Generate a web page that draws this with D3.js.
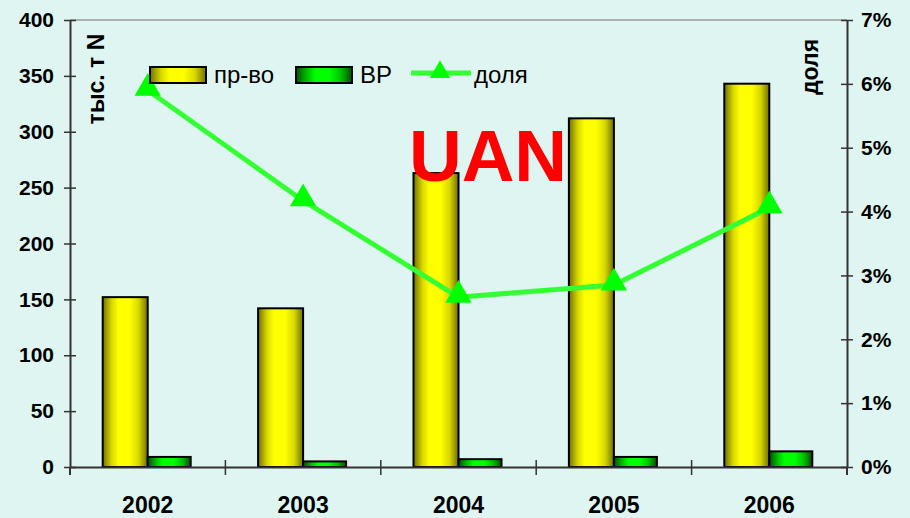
<!DOCTYPE html>
<html lang="ru">
<head>
<meta charset="utf-8">
<script src="https://d3js.org/d3.v7.min.js"></script>
<style>
  body { margin: 0; background: #def5f1; }
  text { font-family: Arial, "Liberation Sans", sans-serif; }
</style>
</head>
<body>
<svg width="910" height="518"></svg>
<script>
// data
var years = ["2002", "2003", "2004", "2005", "2006"];
var production = [152, 142, 263, 312, 343];   // пр-во, тыс. т N
var vr = [9, 5, 7, 9, 14];                     // ВР
var share = [5.9, 4.17, 2.66, 2.85, 4.06];     // доля, %
var leftTicks = [0, 50, 100, 150, 200, 250, 300, 350, 400];
var rightTicks = [0, 1, 2, 3, 4, 5, 6, 7];

var svg = d3.select("svg");
var plotL = 70, plotR = 847, plotT = 20, plotB = 467;

svg.append("rect").attr("width", 910).attr("height", 518).attr("fill", "#def5f1");

var x = d3.scaleBand().domain(years).range([plotL, plotR]);
var y = d3.scaleLinear().domain([0, 400]).range([plotB, plotT]);
var y2 = d3.scaleLinear().domain([0, 7]).range([plotB, plotT]);

// gradients (bright band a bit left of centre, dark edges)
var defs = svg.append("defs");
function grad(id, dark, mid, light) {
  var g = defs.append("linearGradient").attr("id", id)
    .attr("x1", "0%").attr("x2", "100%").attr("y1", "0%").attr("y2", "0%");
  g.append("stop").attr("offset", "0%").attr("stop-color", dark);
  g.append("stop").attr("offset", "20%").attr("stop-color", mid);
  g.append("stop").attr("offset", "35%").attr("stop-color", light);
  g.append("stop").attr("offset", "60%").attr("stop-color", light);
  g.append("stop").attr("offset", "80%").attr("stop-color", mid);
  g.append("stop").attr("offset", "100%").attr("stop-color", dark);
}
grad("gy", "#707000", "#d8d800", "#ffff00");
grad("gg", "#005000", "#00c000", "#00ff00");

// top border line
svg.append("line").attr("x1", plotL).attr("x2", plotR).attr("y1", plotT).attr("y2", plotT)
  .attr("stroke", "#999").attr("stroke-width", 1.5);

var bw = 45;
// bars
svg.append("g").selectAll("rect").data(production).enter().append("rect")
  .attr("x", function(d, i) { return x(years[i]) + x.bandwidth() / 2 - bw; })
  .attr("y", function(d) { return y(d); })
  .attr("width", bw)
  .attr("height", function(d) { return plotB - y(d); })
  .attr("fill", "url(#gy)").attr("stroke", "#000").attr("stroke-width", 2);

svg.append("g").selectAll("rect").data(vr).enter().append("rect")
  .attr("x", function(d, i) { return x(years[i]) + x.bandwidth() / 2; })
  .attr("y", function(d) { return y(d); })
  .attr("width", bw - 2)
  .attr("height", function(d) { return plotB - y(d); })
  .attr("fill", "url(#gg)").attr("stroke", "#000").attr("stroke-width", 2);

// axes
var axL = svg.append("g").attr("transform", "translate(" + plotL + ",0)")
  .call(d3.axisLeft(y).tickValues(leftTicks).tickSize(6).tickSizeOuter(0));
var axR = svg.append("g").attr("transform", "translate(" + plotR + ",0)")
  .call(d3.axisRight(y2).tickValues(rightTicks).tickSize(6).tickSizeOuter(0)
    .tickFormat(function(d) { return d + "%"; }));
var axB = svg.append("g").attr("transform", "translate(0," + plotB + ")")
  .call(d3.axisBottom(x).tickSize(0).tickSizeOuter(0));

[axL, axR, axB].forEach(function(a) {
  a.select(".domain").attr("stroke", "#333").attr("stroke-width", 2);
  a.selectAll(".tick line").attr("stroke", "#333").attr("stroke-width", 1.5);
  a.selectAll("text").attr("fill", "#000").style("font-weight", "bold")
    .style("font-family", "Arial, 'Liberation Sans', sans-serif");
});
axL.selectAll(".tick line").attr("x1", 6);
axL.selectAll("text").style("font-size", "21px").attr("x", -16);
axR.selectAll(".tick line").attr("x1", -6);
axR.selectAll("text").style("font-size", "21px").attr("x", 14);
axB.selectAll("text").style("font-size", "23px").attr("dy", 0).attr("y", 46);

// category separators on x axis
svg.append("g").selectAll("line").data(years.slice(1)).enter().append("line")
  .attr("x1", function(d) { return x(d); }).attr("x2", function(d) { return x(d); })
  .attr("y1", plotB - 7).attr("y2", plotB + 8)
  .attr("stroke", "#333").attr("stroke-width", 1.5);
svg.append("line").attr("x1", plotL).attr("x2", plotL).attr("y1", plotB).attr("y2", plotB + 8)
  .attr("stroke", "#333").attr("stroke-width", 2);
svg.append("line").attr("x1", plotR).attr("x2", plotR).attr("y1", plotB).attr("y2", plotB + 8)
  .attr("stroke", "#333").attr("stroke-width", 2);

// line
var line = d3.line()
  .x(function(d, i) { return x(years[i]) + x.bandwidth() / 2; })
  .y(function(d) { return y2(d); });
svg.append("path").datum(share).attr("d", line)
  .attr("fill", "none").attr("stroke", "#33ff33").attr("stroke-width", 5);
var tri = d3.symbol().type(d3.symbolTriangle).size(300);
svg.append("g").selectAll("path").data(share).enter().append("path")
  .attr("d", tri)
  .attr("transform", function(d, i) {
    return "translate(" + (x(years[i]) + x.bandwidth() / 2) + "," + (y2(d) - 2) + ")";
  })
  .attr("fill", "#00ff00");

// axis titles
svg.append("text").attr("transform", "translate(104,79) rotate(-90)")
  .attr("text-anchor", "middle").style("font-size", "23px").style("font-weight", "bold")
  .text("тыс. т N");
svg.append("text").attr("transform", "translate(818,67) rotate(-90)")
  .attr("text-anchor", "middle").style("font-size", "23px").style("font-weight", "bold")
  .text("доля");

// legend
var lg = svg.append("g");
lg.append("rect").attr("x", 150).attr("y", 67).attr("width", 56).attr("height", 16)
  .attr("fill", "url(#gy)").attr("stroke", "#000").attr("stroke-width", 2);
lg.append("text").attr("x", 214).attr("y", 83).style("font-size", "24px").text("пр-во");
lg.append("rect").attr("x", 296).attr("y", 67).attr("width", 56).attr("height", 16)
  .attr("fill", "url(#gg)").attr("stroke", "#000").attr("stroke-width", 2);
lg.append("text").attr("x", 360).attr("y", 83).style("font-size", "24px").text("ВР");
lg.append("line").attr("x1", 411).attr("x2", 471).attr("y1", 73).attr("y2", 73)
  .attr("stroke", "#33ff33").attr("stroke-width", 5);
lg.append("path").attr("d", d3.symbol().type(d3.symbolTriangle).size(180))
  .attr("transform", "translate(440,72)").attr("fill", "#00ff00");
lg.append("text").attr("x", 474).attr("y", 83).style("font-size", "24px").text("доля");

// label
svg.append("text").attr("x", 488).attr("y", 181).attr("text-anchor", "middle")
  .attr("fill", "#ff0000").style("font-size", "73px").style("font-weight", "bold")
  .text("UAN");
</script>
</body>
</html>
